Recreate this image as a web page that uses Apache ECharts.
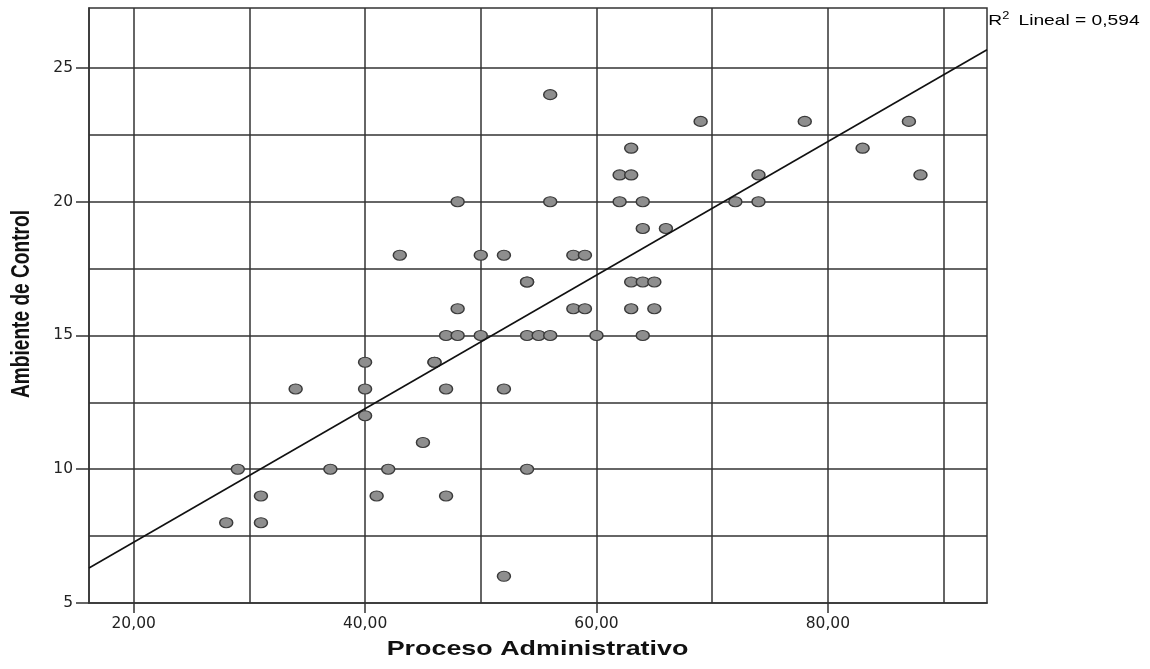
<!DOCTYPE html>
<html>
<head>
<meta charset="utf-8">
<script src="https://cdn.jsdelivr.net/npm/echarts@6/dist/echarts.min.js"></script>
<style>
  html, body { margin: 0; padding: 0; background: #ffffff; }
  #chart { width: 1150px; height: 669px; }
</style>
</head>
<body>
<div id="chart"></div>
<script>
// ---- Data ----
const procesoAdministrativo = [56, 69, 78, 87, 63, 83, 62, 63, 74, 88, 48, 56, 62, 64, 72, 74, 64, 66,
  43, 50, 52, 58, 59, 54, 54, 63, 64, 65, 48, 58, 59, 63, 65,
  47, 48, 50, 54, 55, 56, 60, 64, 40, 46, 46, 34, 40, 47, 52, 40, 45,
  29, 37, 42, 54, 31, 41, 47, 28, 31, 52];
const ambienteControl = [24, 23, 23, 23, 22, 22, 21, 21, 21, 21, 20, 20, 20, 20, 20, 20, 19, 19,
  18, 18, 18, 18, 18, 17, 17, 17, 17, 17, 16, 16, 16, 16, 16,
  15, 15, 15, 15, 15, 15, 15, 15, 14, 14, 14, 13, 13, 13, 13, 12, 11,
  10, 10, 10, 10, 9, 9, 9, 8, 8, 6];

// Fit line endpoints
const fitLineX = [16.14, 93.75];
const fitLineY = [6.31, 25.68];
const r2Label = '0,594';

// Axis extents and tick values
const xRange = [16.14, 93.75];
const yRange = [5, 27.24];
const xTickLabels = [20, 40, 60, 80];
const xGridValues = [20, 30, 40, 50, 60, 70, 80, 90];
const yTickLabels = [5, 10, 15, 20, 25];
const yGridValues = [7.5, 10, 12.5, 15, 17.5, 20, 22.5, 25];

const xTitle = 'Proceso Administrativo';
const yTitle = 'Ambiente de Control';

// ---- Build ----
const points = procesoAdministrativo.map((x, i) => [x, ambienteControl[i]]);
const fitLine = fitLineX.map((x, i) => [x, fitLineY[i]]);

const lineColor = '#333333';
const labelFont = 'DejaVu Sans, sans-serif';
const titleFont = 'Liberation Sans, Arial, sans-serif';

const chart = echarts.init(document.getElementById('chart'), null, { renderer: 'canvas' });

chart.setOption({
  animation: false,
  backgroundColor: '#ffffff',
  grid: {
    left: 89, top: 8, right: 163, bottom: 66,
    show: true,
    borderColor: lineColor,
    borderWidth: 1.5,
    backgroundColor: 'transparent'
  },
  xAxis: [
    {
      type: 'value',
      min: xRange[0], max: xRange[1],
      position: 'bottom',
      axisLine: { show: true, lineStyle: { color: lineColor, width: 1.5 } },
      axisTick: { show: true, length: 10, customValues: xTickLabels, lineStyle: { color: lineColor, width: 1.5 } },
      axisLabel: {
        show: true, customValues: xTickLabels, margin: 13,
        fontFamily: labelFont, fontSize: 15.5, color: '#222',
        formatter: v => v.toFixed(2).replace('.', ',')
      },
      splitLine: { show: false }
    },
    {
      type: 'value',
      min: xRange[0], max: xRange[1],
      position: 'bottom',
      axisLine: { show: false },
      axisTick: { show: false, customValues: xGridValues },
      axisLabel: { show: false, customValues: xGridValues },
      splitLine: { show: true, lineStyle: { color: lineColor, width: 1.5 } }
    }
  ],
  yAxis: [
    {
      type: 'value',
      min: yRange[0], max: yRange[1],
      position: 'left',
      axisLine: { show: true, lineStyle: { color: lineColor, width: 1.5 } },
      axisTick: { show: true, length: 13, customValues: yTickLabels, lineStyle: { color: lineColor, width: 1.5 } },
      axisLabel: {
        show: true, customValues: yTickLabels, margin: 16,
        fontFamily: labelFont, fontSize: 15.5, color: '#222'
      },
      splitLine: { show: false }
    },
    {
      type: 'value',
      min: yRange[0], max: yRange[1],
      position: 'left',
      axisLine: { show: false },
      axisTick: { show: false, customValues: yGridValues },
      axisLabel: { show: false, customValues: yGridValues },
      splitLine: { show: true, lineStyle: { color: lineColor, width: 1.5 } }
    }
  ],
  graphic: [
    {
      type: 'text',
      x: 537.5, y: 649.5,
      scaleX: 1.28, scaleY: 1,
      style: {
        text: xTitle,
        font: 'bold 21px ' + titleFont,
        fill: '#111',
        align: 'center',
        verticalAlign: 'middle'
      }
    },
    {
      type: 'text',
      x: 22.5, y: 304,
      rotation: Math.PI / 2,
      scaleX: 0.765, scaleY: 1,
      style: {
        text: yTitle,
        font: 'bold 25px ' + titleFont,
        fill: '#111',
        align: 'center',
        verticalAlign: 'middle'
      }
    },
    {
      type: 'text',
      x: 988.3, y: 21.3,
      scaleX: 1.28, scaleY: 1,
      style: {
        text: '{a|R}{b|2}{a| Lineal = ' + r2Label + '}',
        align: 'left',
        verticalAlign: 'middle',
        rich: {
          a: { fontFamily: titleFont, fontSize: 15, color: '#111', lineHeight: 20, verticalAlign: 'middle' },
          b: { fontFamily: titleFont, fontSize: 10, color: '#111', lineHeight: 10, verticalAlign: 'top', padding: [0, 3, 0, 0] }
        }
      }
    }
  ],
  series: [
    {
      type: 'scatter',
      data: points,
      symbol: 'circle',
      symbolSize: [13, 10],
      itemStyle: { color: '#8e8e8e', borderColor: '#3a3a3a', borderWidth: 1.3, opacity: 1 },
      z: 3
    },
    {
      type: 'line',
      data: fitLine,
      showSymbol: false,
      symbol: 'none',
      lineStyle: { color: '#111', width: 1.6 },
      silent: true,
      z: 4
    }
  ]
});
</script>
</body>
</html>
